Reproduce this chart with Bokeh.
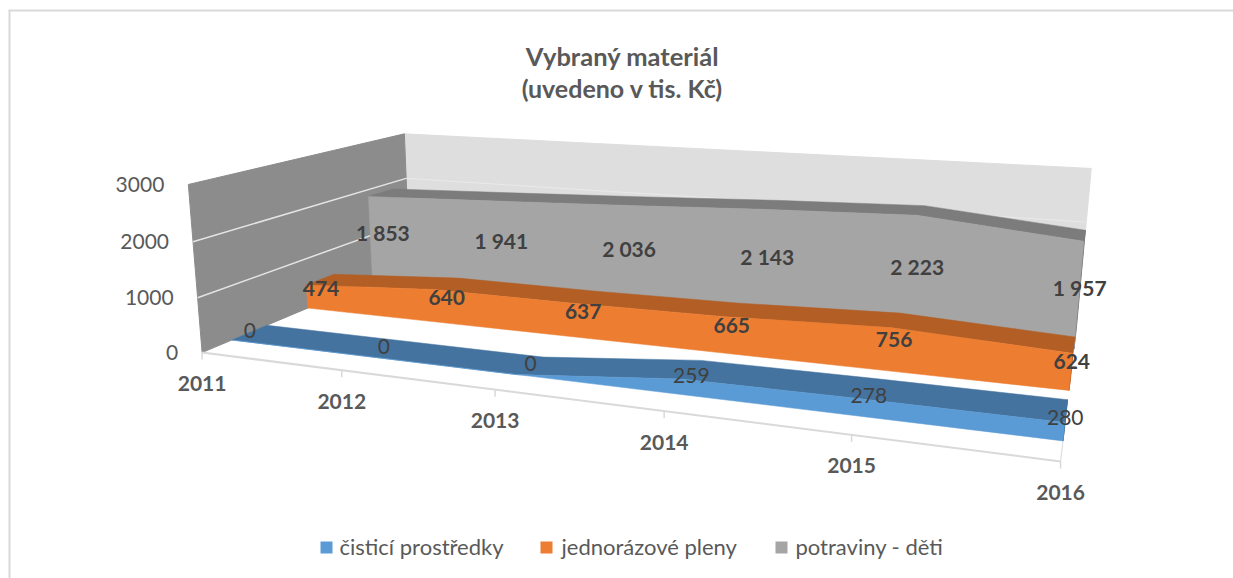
import numpy as np
from bokeh.plotting import figure
from bokeh.embed import file_html
from bokeh.resources import INLINE
from bokeh.core.properties import value

years = ["2011", "2012", "2013", "2014", "2015", "2016"]
cistici = [0, 0, 0, 259, 278, 280]
pleny = [474, 640, 637, 665, 756, 624]
potraviny = [1853, 1941, 2036, 2143, 2223, 1957]
y_ticks = [0, 1000, 2000, 3000]
y_tick_labels = ["0", "1000", "2000", "3000"]
series_names = ["čisticí prostředky", "jednorázové pleny", "potraviny - děti"]
title_lines = ["Vybraný materiál", "(uvedeno v tis. Kč)"]

FONT = value("Lato")
TXT = "#404040"
AX = "#595959"

# depth slots of the three series on the floor (0 = front, 1 = back wall)
ZB = (0.115, 0.26)
ZO = (0.445, 0.58)
ZG = (0.78, 0.92)

# calibration of the 3-D scene: (category, depth, thousands) -> page pixel, weight
calib = [
    ((0, 0, 0), (203, 350), 4), ((0, 0, 1), (198, 297), 2), ((0, 0, 2), (193, 243), 2), ((0, 0, 3), (187, 184), 4),
    ((0, 1, 3), (405, 133), 3), ((0, 1, 2), (408, 177), 1), ((5, 1, 3), (1090, 168), 3), ((5, 1, 2), (1087, 220), 1),
    ((1, 0, 0), (343, 369), 2), ((2, 0, 0), (497, 388), 2), ((3, 0, 0), (666, 412), 2), ((4, 0, 0), (850, 436), 2),
    ((5, 0, 0), (1060, 460), 3),
    ((5, ZB[0], 0), (1063, 440), 1), ((5, ZB[0], .28), (1066, 420), 1), ((5, ZB[1], .28), (1067, 402), 1),
    ((5, ZO[0], 0), (1069, 388), 1), ((5, ZO[0], .624), (1073, 352), 1), ((5, ZO[1], .624), (1075, 335), 1),
    ((5, ZG[0], 1.957), (1085, 242), 1), ((5, ZG[1], 1.957), (1086, 230), 1),
    ((0, ZB[0], 0), (230, 343), 2), ((0, ZB[1], 0), (263, 327), 2),
    ((1, ZB[0], 0), (369, 358), 2), ((1, ZB[1], 0), (391, 341), 2),
    ((2, ZB[0], 0), (517, 374), 2), ((2, ZB[1], 0), (541, 358), 2),
    ((0, ZO[0], 0), (307, 307), 2), ((0, ZO[0], .474), (307, 284), 2), ((0, ZO[1], .474), (333, 274), 2),
    ((0, ZG[0], 1.853), (367, 196), 1),
]
A, b = [], []
for (X, Y, Z), (u, v), w in calib:
    A.append([w * c for c in (X, Y, Z, 1, 0, 0, 0, 0, -u * X, -u * Y, -u * Z)]); b.append(w * u)
    A.append([w * c for c in (0, 0, 0, 0, X, Y, Z, 1, -v * X, -v * Y, -v * Z)]); b.append(w * v)
P = np.linalg.lstsq(np.array(A, float), np.array(b, float), rcond=None)[0]


def proj(t, z, h):
    d = P[8] * t + P[9] * z + P[10] * h + 1
    return ((P[0] * t + P[1] * z + P[2] * h + P[3]) / d,
            (P[4] * t + P[5] * z + P[6] * h + P[7]) / d)


def poly(pts):
    q = [proj(*a) for a in pts]
    return [a[0] for a in q], [a[1] for a in q]


W, H = 1233, 578
p = figure(width=W, height=H, x_range=(0, W), y_range=(H, 0),
           output_backend="svg", toolbar_location=None, min_border=0,
           x_axis_location=None, y_axis_location=None)
p.grid.visible = False
p.outline_line_color = None
p.background_fill_color = "white"
p.border_fill_color = "white"

# chart frame: only its left and top edges are in the picture
p.line([9, 9], [10, 578], line_color="#d9d9d9", line_width=2)
p.line([8, 1233], [10, 10], line_color="#d9d9d9", line_width=2)

# walls
xs, ys = poly([(0, 1, 0), (5, 1, 0), (5, 1, 3), (0, 1, 3)])
p.patch(xs, ys, fill_color="#dedede", line_color="#dedede")
xs, ys = poly([(0, 0, 0), (0, 1, 0), (0, 1, 3), (0, 0, 3)])
p.patch(xs, ys, fill_color="#8c8c8c", line_color="#8c8c8c")
for h in y_ticks[1:3]:
    xs, ys = poly([(0, 0, h / 1000), (0, 1, h / 1000)])
    p.line(xs, ys, line_color="#e4e4e4", line_width=1.5)
    xs, ys = poly([(0, 1, h / 1000), (5, 1, h / 1000)])
    p.line(xs, ys, line_color="#e9e9e9", line_width=1)

# floor edges and ticks
xs, ys = poly([(0, 0, 0), (5, 0, 0)])
p.line(xs, ys, line_color="#d9d9d9", line_width=2)
xs, ys = poly([(5, 0, 0), (5, ZB[0], 0)])
p.line(xs, ys, line_color="#d9d9d9", line_width=1)
for t in range(6):
    x0, y0 = proj(t, 0, 0)
    p.line([x0, x0], [y0, y0 + 7], line_color="#d9d9d9", line_width=1.5)

# series slabs, back to front
ts = list(range(6))
for vals, (z0, z1), front, top in [
    (potraviny, ZG, "#a5a5a5", "#7c7c7c"),
    (pleny, ZO, "#ed7d31", "#b25e25"),
    (cistici, ZB, "#5b9bd5", "#44739f"),
]:
    h = [v / 1000 for v in vals]
    xs, ys = poly([(5, z0, 0), (5, z1, 0), (5, z1, h[5]), (5, z0, h[5])])
    p.patch(xs, ys, fill_color=top, line_color=top)
    xs, ys = poly([(t, z1, h[t]) for t in ts] + [(t, z0, h[t]) for t in ts[::-1]])
    p.patch(xs, ys, fill_color=top, line_color=top, line_width=0.5)
    xs, ys = poly([(t, z0, h[t]) for t in ts] + [(t, z0, 0) for t in ts[::-1]])
    p.patch(xs, ys, fill_color=front, line_color=front, line_width=0.5)


def label(x, y, s, size, color=TXT, bold=False, align="center"):
    p.text([x], [y], text=[s], text_font=FONT, text_font_size=f"{size}px",
           text_color=color, text_align=align, text_baseline="middle",
           text_font_style="bold" if bold else "normal")


def fmt(v):
    return f"{v:,}".replace(",", " ")


# data labels
for vals, (z0, z1), bold in [(potraviny, ZG, True), (pleny, ZO, True), (cistici, ZB, False)]:
    zc = (z0 + z1) / 2
    for t, v in enumerate(vals):
        x, y = proj(t, zc, v / 2000)
        label(x, y - 2, fmt(v), 21, bold=bold)

# axis labels
for h, s in zip(y_ticks, y_tick_labels):
    x, y = proj(0, 0, h / 1000)
    label(x - 24, y, s, 21, color=AX, align="right")
for t, s in enumerate(years):
    x, y = proj(t, 0, 0)
    label(x, y + 31, s, 21, color=AX, bold=True)

# title
label(622, 55, title_lines[0], 25.5, color=AX, bold=True)
label(622, 87, title_lines[1], 25, color=AX, bold=True)

# legend
for x0, tx, name, c in [(320, 339, series_names[0], "#5b9bd5"),
                        (540, 561, series_names[1], "#ed7d31"),
                        (775, 795, series_names[2], "#a5a5a5")]:
    p.quad(left=[x0], right=[x0 + 12], top=[541], bottom=[553], fill_color=c, line_color=None)
    label(tx, 546, name, 22, color=AX, align="left")

open("out.html", "w").write(file_html(p, INLINE))
